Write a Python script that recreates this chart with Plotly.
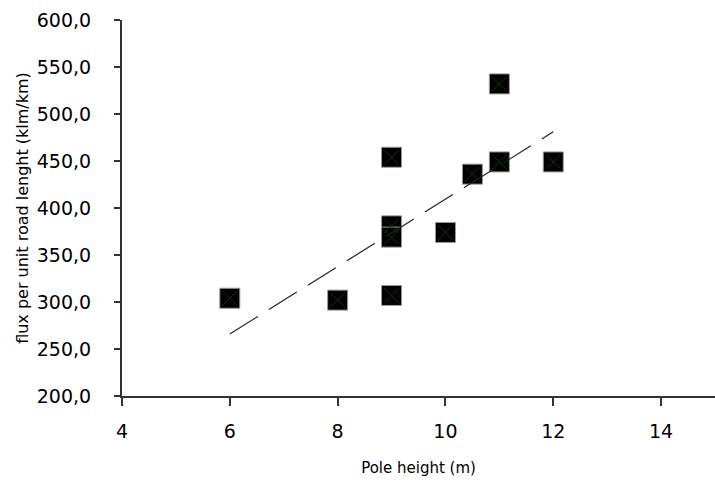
import plotly.graph_objects as go

# Data
pole_height = [6, 8, 9, 9, 9, 9, 10, 10.5, 11, 11, 12]
flux = [304, 302, 454, 381, 369, 307, 374, 436, 532, 449, 449]
trend_x = [6, 12]
trend_y = [266, 481]
x_ticks = [4, 6, 8, 10, 12, 14]
y_ticks = [200, 250, 300, 350, 400, 450, 500, 550, 600]
y_tick_labels = [f"{v},0" for v in y_ticks]

FONT = "DejaVu Sans"

fig = go.Figure()
fig.add_trace(go.Scatter(
    x=pole_height, y=flux, mode="markers",
    marker=dict(symbol="square", size=20, color="#000000",
                line=dict(color="#9a9a9a", width=1)),
    hoverinfo="skip", showlegend=False,
))
fig.add_trace(go.Scatter(
    x=pole_height, y=flux, mode="markers",
    marker=dict(symbol="x-thin-open", size=15, color="#0e3a0e",
                line=dict(color="#0e3a0e", width=1)),
    showlegend=False,
))
fig.add_trace(go.Scatter(
    x=trend_x, y=trend_y, mode="lines",
    line=dict(color="#222222", width=1.2, dash="33px,13px"),
    showlegend=False, hoverinfo="skip",
))

fig.update_layout(
    width=715, height=484,
    margin=dict(l=122, r=0, t=20, b=88),
    paper_bgcolor="white", plot_bgcolor="white",
    font=dict(family=FONT, color="#000000"),
    xaxis=dict(
        range=[4, 15], tickvals=x_ticks, ticktext=[str(v) for v in x_ticks],
        showgrid=False, zeroline=False, showline=True, linecolor="#333333",
        linewidth=2, ticks="outside", ticklen=8, tickwidth=2, tickcolor="#333333",
        tickfont=dict(family=FONT, size=19), ticklabelstandoff=9,
        title=dict(text="Pole height (m)", font=dict(family=FONT, size=15), standoff=22),
    ),
    yaxis=dict(
        range=[200, 600], tickvals=y_ticks, ticktext=y_tick_labels,
        showgrid=False, zeroline=False, showline=True, linecolor="#333333",
        linewidth=2, ticks="outside", ticklen=6, tickwidth=2, tickcolor="#333333",
        tickfont=dict(family=FONT, size=19), ticklabelstandoff=19,
        title=dict(text="flux per unit road lenght (klm/km)", font=dict(family=FONT, size=16), standoff=4),
    ),
)

fig.write_html("out.html")
